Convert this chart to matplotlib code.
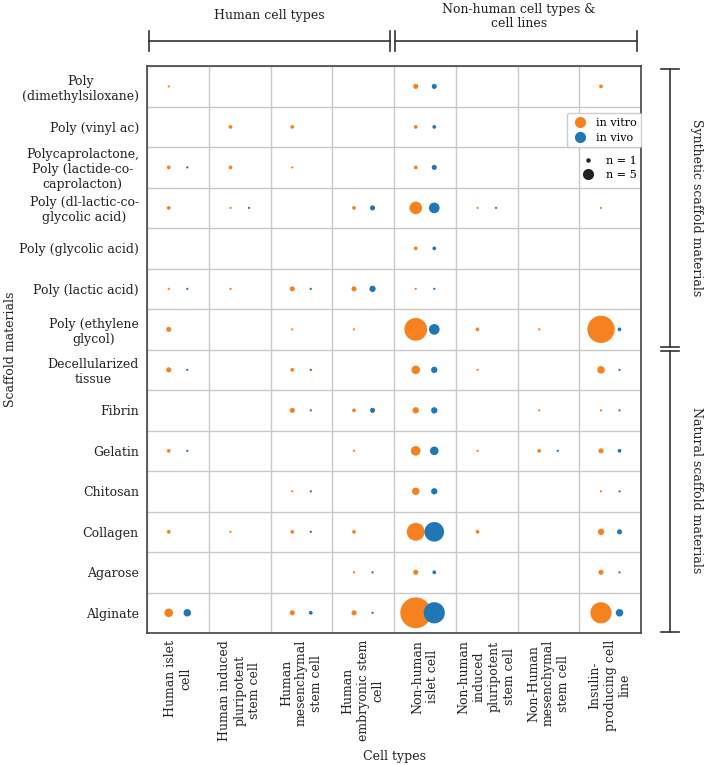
import numpy as np
import matplotlib.pyplot as plt
from matplotlib.lines import Line2D

plt.rcParams['font.family'] = ['DejaVu Serif']

# Data: number of studies per scaffold material (rows) and cell type (columns)
cell_types = ['Human islet\ncell', 'Human induced\npluripotent\nstem cell',
              'Human\nmesenchymal\nstem cell', 'Human\nembryonic stem\ncell',
              'Non-human\nislet cell', 'Non-human\ninduced\npluripotent\nstem cell',
              'Non-Human\nmesenchymal\nstem cell', 'Insulin-\nproducing cell\nline']
materials = ['Poly\n(dimethylsiloxane)', 'Poly (vinyl ac)',
             'Polycaprolactone,\nPoly (lactide-co-\ncaprolacton)',
             'Poly (dl-lactic-co-\nglycolic acid)', 'Poly (glycolic acid)',
             'Poly (lactic acid)', 'Poly (ethylene\nglycol)',
             'Decellularized\ntissue', 'Fibrin', 'Gelatin', 'Chitosan',
             'Collagen', 'Agarose', 'Alginate']
in_vitro = [[1, 0, 0, 0, 3, 0, 0, 2],
            [0, 2, 2, 0, 2, 0, 0, 0],
            [2, 2, 1, 0, 2, 0, 0, 0],
            [2, 1, 0, 2, 10, 1, 0, 1],
            [0, 0, 0, 0, 2, 0, 0, 0],
            [1, 1, 3, 3, 1, 0, 0, 0],
            [3, 0, 1, 1, 22, 2, 1, 28],
            [3, 0, 2, 0, 6, 1, 0, 5],
            [0, 0, 3, 2, 4, 0, 1, 1],
            [2, 0, 0, 1, 7, 1, 2, 3],
            [0, 0, 1, 0, 5, 0, 0, 1],
            [2, 1, 2, 2, 16, 2, 0, 4],
            [0, 0, 0, 1, 3, 0, 0, 3],
            [6, 0, 3, 3, 33, 0, 0, 20]]
in_vivo = [[0, 0, 0, 0, 3, 0, 0, 0],
           [0, 0, 0, 0, 2, 0, 0, 0],
           [1, 0, 0, 0, 3, 0, 0, 0],
           [0, 1, 0, 3, 8, 1, 0, 0],
           [0, 0, 0, 0, 2, 0, 0, 0],
           [1, 0, 1, 4, 1, 0, 0, 0],
           [0, 0, 0, 0, 8, 0, 0, 2],
           [1, 0, 1, 0, 4, 0, 0, 1],
           [0, 0, 1, 3, 4, 0, 0, 1],
           [1, 0, 0, 0, 6, 0, 1, 2],
           [0, 0, 1, 0, 4, 0, 0, 1],
           [0, 0, 1, 0, 18, 0, 0, 3],
           [0, 0, 0, 1, 2, 0, 0, 1],
           [5, 0, 2, 1, 20, 0, 0, 5]]

orange = '#f5821f'
blue = '#1f77b4'
line_col = '#333333'
txt_col = '#222222'
fs = 9


def marker_size(n):
    return 2.6 * np.asarray(n, float) ** 1.5


fig = plt.figure(figsize=(7.04, 7.65), dpi=100)
ax = fig.add_axes([0.209, 0.1725, 0.7017, 0.741])

vitro = np.array(in_vitro)
vivo = np.array(in_vivo)
r, c = np.nonzero(vitro)
ax.scatter(c - 0.15, r, s=marker_size(vitro[r, c]), color=orange, linewidths=0, zorder=3)
r, c = np.nonzero(vivo)
ax.scatter(c + 0.15, r, s=marker_size(vivo[r, c]), color=blue, linewidths=0, zorder=4)

ax.set_xlim(-0.5, len(cell_types) - 0.5)
ax.set_ylim(len(materials) - 0.5, -0.5)
ax.set_xticks(range(len(cell_types)))
ax.set_xticklabels(cell_types, rotation=90, multialignment='center', fontsize=fs)
ax.set_yticks(range(len(materials)))
ax.set_yticklabels(materials, multialignment='center', fontsize=fs)
ax.set_xticks(np.arange(-0.5, len(cell_types)), minor=True)
ax.set_yticks(np.arange(-0.5, len(materials)), minor=True)
ax.tick_params(which='both', length=0)
ax.tick_params(axis='x', pad=5, colors=txt_col)
ax.tick_params(axis='y', pad=6, colors=txt_col)
ax.grid(which='minor', color='#c8c8c8', lw=1)
ax.set_axisbelow(True)
for sp in ax.spines.values():
    sp.set_color('#444444')
    sp.set_linewidth(1.2)

ax.set_xlabel('Cell types', fontsize=fs, color=txt_col)
ax.xaxis.set_label_coords(0.5, -0.207)
ax.set_ylabel('Scaffold materials', fontsize=fs, color=txt_col)
ax.yaxis.set_label_coords(-0.263, 0.5)

# legends
h1 = [Line2D([], [], marker='o', ls='', color=orange, markersize=7, label='in vitro'),
      Line2D([], [], marker='o', ls='', color=blue, markersize=7, label='in vivo')]
leg1 = ax.legend(handles=h1, loc='upper right', bbox_to_anchor=(1.0, 0.917),
                 borderaxespad=0, fontsize=8, edgecolor='#cccccc', framealpha=1,
                 handletextpad=0.6, borderpad=0.4, labelspacing=0.45,
                 handlelength=1.6)
ax.add_artist(leg1)
h2 = [Line2D([], [], marker='o', ls='', color=txt_col, markersize=2.2, label='n = 1'),
      Line2D([], [], marker='o', ls='', color=txt_col, markersize=7, label='n = 5')]
ax.legend(handles=h2, loc='upper right', bbox_to_anchor=(1.0, 0.848),
          borderaxespad=0, fontsize=8, frameon=False, handletextpad=0.9,
          borderpad=0.35, labelspacing=0.35, handlelength=1.6)

# group brackets on top
tr = ax.transAxes
yb = 1.044
for x0, x1 in [(0.004, 0.492), (0.502, 0.992)]:
    ax.plot([x0, x1], [yb, yb], color=line_col, lw=1.2, transform=tr, clip_on=False)
    for x in (x0, x1):
        ax.plot([x, x], [yb - 0.018, yb + 0.018], color=line_col, lw=1.2,
                transform=tr, clip_on=False)
ax.text(0.247, 1.09, 'Human cell types', transform=tr, ha='center', va='center',
        fontsize=fs, color=txt_col)
ax.text(0.753, 1.088, 'Non-human cell types &\ncell lines', transform=tr,
        ha='center', va='center', fontsize=fs, color=txt_col, linespacing=1.1)

# group brackets on the right
xb = 1.059
for y0, y1 in [(0.995, 0.504), (0.497, 0.002)]:
    ax.plot([xb, xb], [y0, y1], color=line_col, lw=1.2, transform=tr, clip_on=False)
    for y in (y0, y1):
        ax.plot([xb - 0.018, xb + 0.018], [y, y], color=line_col, lw=1.2,
                transform=tr, clip_on=False)
ax.text(1.113, 0.75, 'Synthetic scaffold materials', transform=tr, rotation=270,
        ha='center', va='center', fontsize=fs, color=txt_col)
ax.text(1.113, 0.252, 'Natural scaffold materials', transform=tr, rotation=270,
        ha='center', va='center', fontsize=fs, color=txt_col)

fig.savefig('out.png', dpi=100)
